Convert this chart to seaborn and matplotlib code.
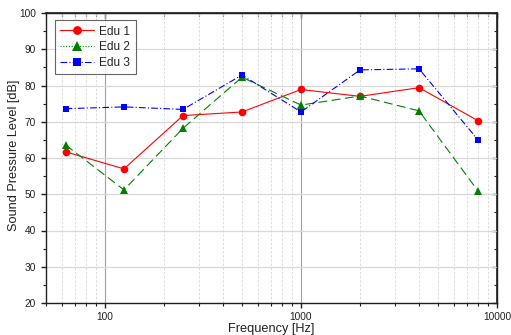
import matplotlib
matplotlib.use("Agg")
import matplotlib.pyplot as plt
import seaborn as sns
import numpy as np
from matplotlib.ticker import LogLocator, NullFormatter, MultipleLocator

frequencies = [63, 125, 250, 500, 1000, 2000, 4000, 8000]
edu1 = [61.7, 57.0, 71.7, 72.7, 78.9, 77.0, 79.4, 70.3]
edu2 = [63.6, 51.2, 68.2, 82.3, 74.6, 77.1, 73.0, 50.9]
edu3 = [73.6, 74.1, 73.4, 82.9, 72.7, 84.3, 84.6, 65.0]
series_names = ["Edu 1", "Edu 2", "Edu 3"]

sns.set_theme(style="white")
plt.rcParams["font.family"] = ["Liberation Sans", "DejaVu Sans"]

fig = plt.figure(figsize=(5.11, 3.35), dpi=100)
ax = fig.add_axes([46 / 511, 1 - 303 / 335, 451 / 511, 290 / 335])

styles = [
    dict(color="#ff0000", marker="o", linestyle="-", linewidth=0.8, markersize=5.5),
    dict(color="#008000", marker="^", linestyle=(0, (8, 4)), linewidth=0.8, markersize=6),
    dict(color="#0000ff", marker="s", linestyle=(0, (6, 2, 1, 2)), linewidth=0.8, markersize=5),
]
for name, values, st in zip(series_names, [edu1, edu2, edu3], styles):
    sns.lineplot(x=frequencies, y=values, ax=ax, label=name,
                 markeredgewidth=0, **st)

ax.set_xscale("log")
ax.set_xlim(50, 10000)
ax.set_ylim(20, 100)
ax.set_xticks([100, 1000, 10000])
ax.set_xticklabels(["100", "1000", "10000"])
ax.xaxis.set_minor_locator(LogLocator(base=10, subs=np.arange(2, 10)))
ax.xaxis.set_minor_formatter(NullFormatter())
ax.yaxis.set_major_locator(MultipleLocator(10))
ax.yaxis.set_minor_locator(MultipleLocator(5))

ax.grid(True, which="major", axis="x", color="#a0a0a0", linewidth=0.8)
ax.grid(True, which="minor", axis="x", color="#d8d8d8", linewidth=0.6, linestyle=(0, (3, 2)))
ax.grid(True, which="major", axis="y", color="#d8d8d8", linewidth=0.9)
ax.set_axisbelow(True)

for sp in ax.spines.values():
    sp.set_color("#202020")
    sp.set_linewidth(1.0)

ax.tick_params(which="both", bottom=True, left=True, top=False, right=False,
               color="#202020", labelsize=7.3, labelcolor="#202020", direction="out")
ax.tick_params(which="major", length=3.6, width=1.0)
ax.tick_params(which="minor", length=2.2, width=0.8)
ax.tick_params(axis="y", which="major", pad=3.8)
ax.tick_params(axis="x", which="major", pad=3.0)

# mirrored ticks on the top and right edges point inward
ax2 = ax.secondary_xaxis("top")
ax2.set_xticks([100, 1000, 10000])
ax2.xaxis.set_minor_locator(LogLocator(base=10, subs=np.arange(2, 10)))
ax2.tick_params(which="both", direction="in", labeltop=False, color="#202020")
ax2.tick_params(which="major", length=3.6, width=1.0)
ax2.tick_params(which="minor", length=2.2, width=0.8)
ax2.set_xticklabels([])
ax2.xaxis.set_minor_formatter(NullFormatter())
ax3 = ax.secondary_yaxis("right")
ax3.yaxis.set_major_locator(MultipleLocator(10))
ax3.yaxis.set_minor_locator(MultipleLocator(5))
ax3.tick_params(which="both", direction="in", labelright=False, color="#202020")
ax3.tick_params(which="major", length=3.6, width=1.0)
ax3.tick_params(which="minor", length=2.2, width=0.8)

ax.set_xlabel("Frequency [Hz]", fontsize=9.2, color="#202020")
ax.set_ylabel("Sound Pressure Level [dB]", fontsize=9.2, color="#202020")
ax.xaxis.set_label_coords(0.5, -0.068)
ax.yaxis.set_label_coords(-0.058, 0.51)

leg = ax.legend(loc="upper left", bbox_to_anchor=(0.02, 0.975), fontsize=8.6,
                frameon=True, fancybox=False, handlelength=2.8, borderpad=0.45,
                labelspacing=0.3, handletextpad=0.45, borderaxespad=0,
                markerscale=1.15)
leg.get_frame().set_edgecolor("#404040")
leg.get_frame().set_linewidth(0.8)
leg.get_lines()[1].set_linestyle((0, (1, 1.5)))

fig.savefig("out.png", dpi=100)
